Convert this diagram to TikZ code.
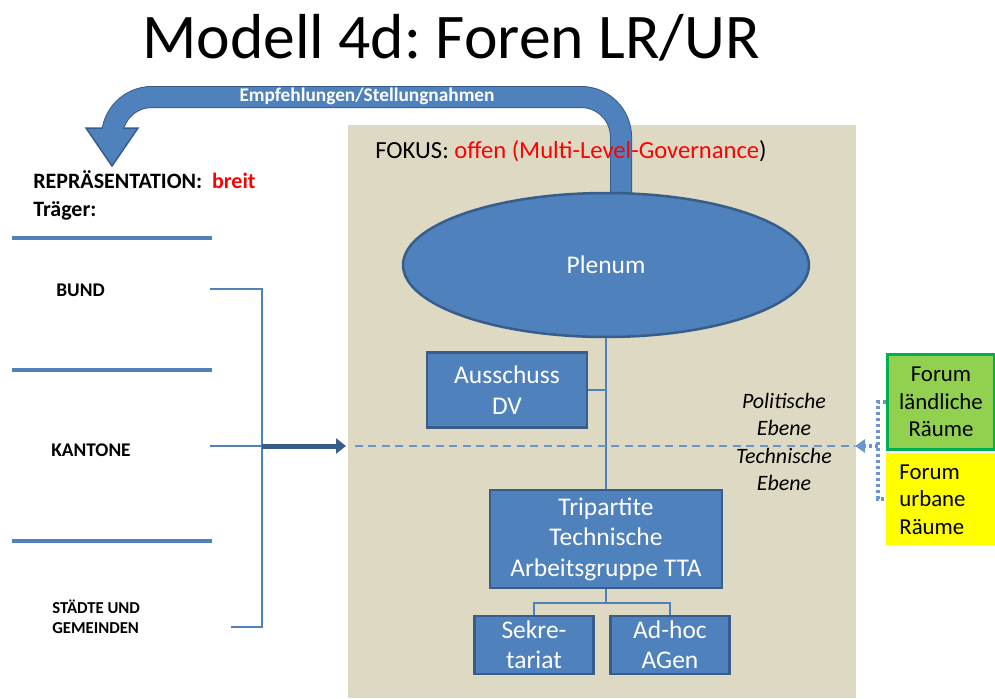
\documentclass[tikz,border=0pt]{standalone}
\usepackage{fontspec}
\setmainfont{Carlito}
\usepackage{tikz}
\usetikzlibrary{arrows,arrows.meta,shapes,positioning,calc}
\definecolor{boxblue}{HTML}{4F81BD}
\definecolor{edgeblue}{HTML}{385D8A}
\definecolor{dashblue}{HTML}{6C95CC}
\definecolor{sand}{HTML}{DDD9C3}
\definecolor{forumgreen}{HTML}{92D050}
\definecolor{forumedge}{HTML}{00B050}
\definecolor{forumyellow}{HTML}{FFFF00}
\frenchspacing

\begin{document}
\begin{tikzpicture}
[x=0.02cm, y=-0.02cm,
 org/.style={rectangle, draw=edgeblue, fill=boxblue, line width=0.5mm, text=white, align=center, inner sep=0pt, font=\fontsize{14.5}{17.3}\selectfont},
 forum/.style={rectangle, anchor=north west, inner sep=0pt, font=\fontsize{13}{15.6}\selectfont},
 traeger/.style={anchor=west, inner sep=0pt, align=left, font=\bfseries\fontsize{11}{12}\selectfont},
 sepline/.style={draw=boxblue, line width=0.8mm},
 link/.style={draw=boxblue, line width=0.35mm},
 dotlink/.style={draw=dashblue, line width=0.8mm, dash pattern=on 0.7mm off 0.5mm},
 ]
\useasboundingbox (0,0) rectangle (995,698);
\node[fill=sand, anchor=north west, inner sep=0pt, minimum width=10.16cm, minimum height=11.46cm] (focus) at (348,125) {};
\node[font=\fontsize{36.2}{40}\selectfont] (title) at (451,38) {Modell 4d: Foren LR/UR};

% Rueckmeldung an die Traeger
\coordinate (bandstart) at (621,197);
\coordinate (headtop) at (112,129);
\draw[edgeblue, line width=0.44cm, rounded corners=0.8cm] (bandstart) -- (621,97) -- (112,97) -- (headtop);
\filldraw[fill=boxblue, draw=edgeblue, line width=0.3mm] (86,128) -- (138,128) -- (112,166) -- cycle;
\draw[boxblue, line width=0.4cm, rounded corners=0.8cm] (bandstart) -- (621,97) -- (112,97) -- (112,130);
\node[text=white, font=\bfseries\fontsize{11}{12}\selectfont] (empf) at (367,96) {Empfehlungen/Stellungnahmen};

\node[anchor=base west, inner sep=0pt, font=\fontsize{14}{16}\selectfont] (fokus) at (375,158) {FOKUS: \textcolor{red}{offen (Multi-Level-Governance})};

\node[ellipse, draw=edgeblue, fill=boxblue, line width=0.5mm, inner sep=0pt, minimum width=8.12cm, minimum height=2.88cm, text=white, font=\fontsize{14.5}{17}\selectfont] (plenum) at (606,265) {Plenum};
\node[org, minimum width=3.2cm, minimum height=1.5cm] (ausschuss) at (507,390) {Ausschuss\\DV};
\node[org, minimum width=4.64cm, minimum height=1.96cm] (tta) at (606,539) {Tripartite\\Technische\\Arbeitsgruppe TTA};
\node[org, minimum width=2.38cm, minimum height=1.16cm] (sek) at (534,645) {Sekre-\\tariat};
\node[org, minimum width=2.38cm, minimum height=1.16cm] (adhoc) at (670,645) {Ad-hoc\\AGen};

\draw[link] (plenum.south) -- (tta.north);
\draw[link] (ausschuss.east) -- (ausschuss.east -| tta.north);
\draw[link] (tta.south) -- ++(0,14) coordinate (fork);
\draw[link] (sek.north) |- (fork) -| (adhoc.north);

% Foren
\node[forum, fill=forumgreen, draw=forumedge, line width=0.6mm, minimum width=2.14cm, minimum height=1.9cm, align=center] (land) at (886,353) {Forum\\ländliche\\Räume};
\node[forum, fill=forumyellow, minimum width=2.18cm, minimum height=1.84cm, text width=1.66cm, inner xsep=0.26cm, align=left] (urban) at (886,453) {Forum\\urbane\\Räume};
\node[font=\itshape\fontsize{12.5}{15.5}\selectfont, align=center] (ebene) at (784,442) {Politische\\Ebene\\Technische\\Ebene};

% Traeger
\node[anchor=base west, inner sep=0pt, font=\bfseries\fontsize{12.5}{14}\selectfont] (repr) at (33,188) {REPRÄSENTATION:\ \ \textcolor{red}{breit}};
\node[anchor=base west, inner sep=0pt, font=\bfseries\fontsize{12.5}{14}\selectfont] (traegerlbl) at (33,216) {Träger:};
\draw[sepline] (12,238) -- (212,238);
\draw[sepline] (12,370) -- (212,370);
\draw[sepline] (12,541) -- (212,541);
\node[traeger] (bund) at (56,290) {BUND};
\node[traeger] (kantone) at (51,450) {KANTONE};
\node[traeger, font=\bfseries\fontsize{9.5}{11.3}\selectfont] (staedte) at (52,617) {STÄDTE UND\\GEMEINDEN};

\coordinate (bt) at (210,289);
\coordinate (bm) at (210,446);
\coordinate (bb) at (231,627);
\coordinate (split) at (262,446);
\coordinate (focusin) at (346,446);
\coordinate (forumtip) at (855,446);
\coordinate (dotjoin) at (878,446);
\draw[link] (bt) -| (split) |- (bb);
\draw[link] (bm) -- (split);
\draw[-{Triangle[length=2mm,width=3mm]}, draw=edgeblue, fill=edgeblue, line width=1mm] (split) -- (focusin);
\draw[draw=dashblue, line width=0.3mm, dash pattern=on 1.6mm off 1.1mm] (focusin) ++(9,0) -- (forumtip);
\draw[dotlink] (land.west) -| (dotjoin) |- (urban.west);
\draw[dotlink, -{Triangle[length=2mm,width=2.6mm]}] (dotjoin) -- (forumtip);
\end{tikzpicture}
\end{document}
